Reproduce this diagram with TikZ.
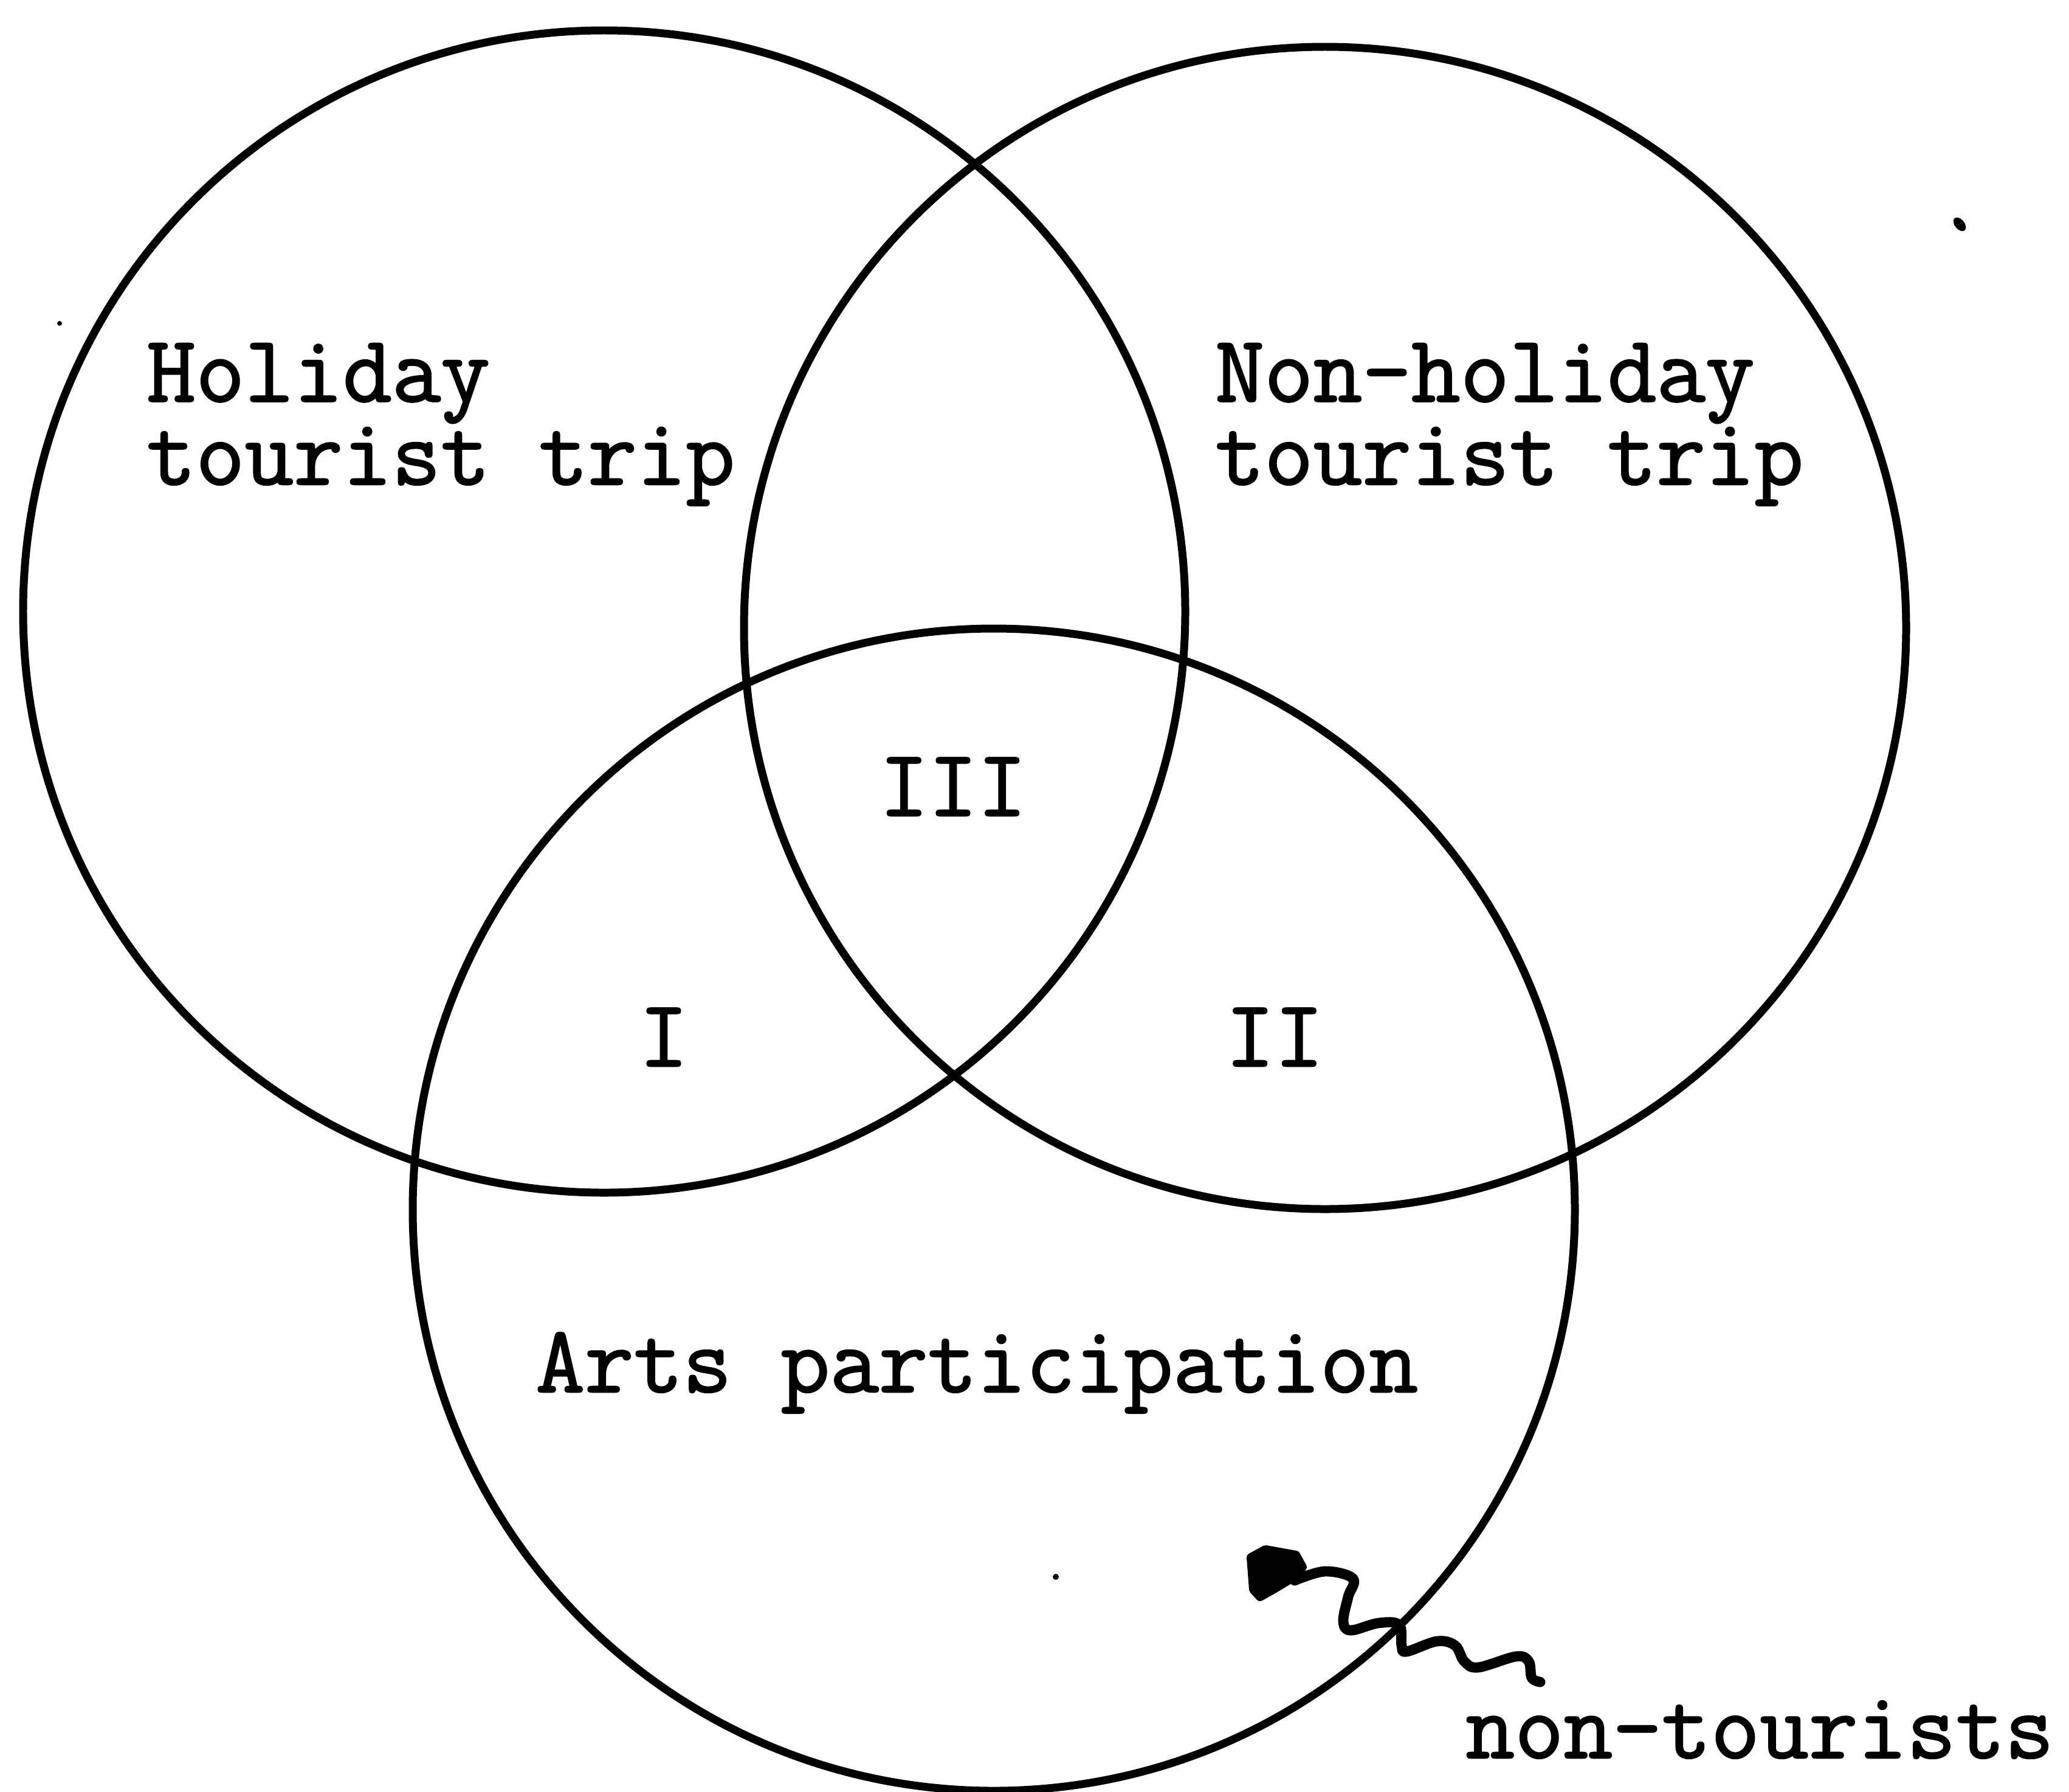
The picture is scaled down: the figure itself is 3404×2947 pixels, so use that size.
\documentclass[tikz,border=0pt]{standalone}
\usepackage{fontspec}
\newfontfamily\tw{Latin Modern Mono}[FakeBold=1.6]
\begin{document}
\begin{tikzpicture}[x=0.005cm,y=-0.005cm,
  venn/.style={draw=black,line width=1.85pt},
  lbl/.style={font=\tw\fontsize{22.3}{19.42}\selectfont,inner sep=0pt,anchor=base west,align=left},
  clbl/.style={font=\tw\fontsize{22.3}{22.3}\selectfont,inner sep=0pt,anchor=base},
  speck/.style={fill=black,draw=none}]
\useasboundingbox (0,0) rectangle (3404,2947);
% circles
\draw[venn] (994,1006) circle[radius=956];
\draw[venn] (2180,1033) circle[radius=956];
\draw[venn] (1635,1990) circle[radius=956];
% labels (base anchor = baseline of last line)
\node[lbl] (hol) at (240,797) {Holiday\\tourist trip};
\node[lbl] (non) at (1998,797) {Non-holiday\\tourist trip};
\node[clbl] (r3) at (1568,1342) {III};
\node[clbl] (r1) at (1092,1754) {I};
\node[clbl] (r2) at (2097,1754) {II};
\node[lbl] (arts) at (880,2290) {Arts participation};
\node[lbl] (nt) at (2410,2892) {non-tourists};
% wavy arrow
\coordinate (wend) at (2534,2767);
\coordinate (whead) at (2130,2600);
\draw[line width=2.4pt,line cap=round,line join=round] plot[smooth,tension=0.6] coordinates {
  (2534,2767) (2520,2760) (2515,2733) (2494,2725) (2432,2743) (2409,2733)
  (2394,2707) (2364,2700) (2314,2717) (2306,2707) (2302,2673) (2268,2670)
  (2222,2682) (2210,2667) (2218,2627) (2226,2597) (2180,2585) (2130,2600)};
\fill[line join=round,draw=black,line width=2pt] (2058,2562) -- (2082,2549) -- (2132,2558) -- (2143,2578)
  -- (2126,2596) -- (2098,2613) -- (2073,2627) -- (2062,2615) -- cycle;
% specks
\fill[speck,rotate around={40:(3224,369)}] (3224,369) ellipse[x radius=8,y radius=13];
\fill[speck] (98,532) circle[radius=4];
\fill[speck] (1737,2594) circle[radius=5];
\end{tikzpicture}
\end{document}
